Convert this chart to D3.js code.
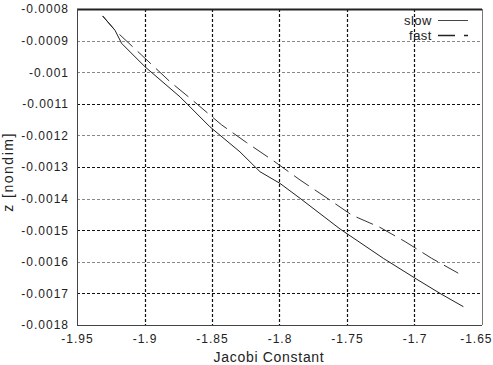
<!DOCTYPE html>
<html>
<head>
<meta charset="utf-8">
<script src="https://cdn.jsdelivr.net/npm/d3@7"></script>
<style>
  html, body { margin: 0; padding: 0; background: #fff; }
  svg { display: block; font-family: "Liberation Sans", Arial, sans-serif; }
</style>
</head>
<body>
<svg id="chart" width="493" height="365"></svg>
<script>
// ---- data ----
const slowX = [-1.931, -1.9219, -1.9169, -1.8996, -1.8737, -1.8515, -1.8293, -1.8144, -1.7996, -1.7848, -1.7552, -1.7231, -1.6984, -1.6811, -1.6638];
const slowZ = [-0.000822, -0.000867, -0.000909, -0.000983, -0.001078, -0.001173, -0.001252, -0.001315, -0.001352, -0.001399, -0.001496, -0.001589, -0.001655, -0.0017, -0.001742];
const fastX = [-1.931, -1.9219, -1.9021, -1.8811, -1.8663, -1.8428, -1.8243, -1.8046, -1.7848, -1.7663, -1.7465, -1.7256, -1.707, -1.6873, -1.6676];
const fastZ = [-0.000822, -0.000867, -0.000946, -0.00103, -0.001082, -0.001167, -0.001223, -0.00128, -0.001341, -0.001394, -0.001452, -0.001491, -0.001536, -0.001589, -0.001636];
const xTicks = [-1.95, -1.9, -1.85, -1.8, -1.75, -1.7, -1.65];
const xTickLabels = ["-1.95", "-1.9", "-1.85", "-1.8", "-1.75", "-1.7", "-1.65"];
const yTicks = [-0.0008, -0.0009, -0.001, -0.0011, -0.0012, -0.0013, -0.0014, -0.0015, -0.0016, -0.0017, -0.0018];
const yTickLabels = ["-0.0008", "-0.0009", "-0.001", "-0.0011", "-0.0012", "-0.0013", "-0.0014", "-0.0015", "-0.0016", "-0.0017", "-0.0018"];
const seriesNames = ["slow", "fast"];

// ---- layout ----
const W = 493, H = 365;
const m = { left: 77, right: 11, top: 9, bottom: 40 };
const pw = W - m.left - m.right, ph = H - m.top - m.bottom;

const svg = d3.select("#chart");
const g = svg.append("g").attr("transform", `translate(${m.left},${m.top})`);

const x = d3.scaleLinear().domain([-1.95, -1.65]).range([0, pw]);
const y = d3.scaleLinear().domain([-0.0018, -0.0008]).range([ph, 0]);

// gridlines (horizontal)
g.append("g").selectAll("line.hg")
  .data(yTicks.slice(1, -1))
  .join("line")
  .attr("x1", 0).attr("x2", pw)
  .attr("y1", d => Math.round(y(d)) + 0.5).attr("y2", d => Math.round(y(d)) + 0.5)
  .attr("stroke", (d, i) => (i >= 2 && i % 2 === 0) ? "#111" : "#888")
  .attr("stroke-width", 1)
  .attr("stroke-dasharray", "3,2");

// gridlines (vertical)
g.append("g").selectAll("line.vg")
  .data(xTicks.slice(1, -1))
  .join("line")
  .attr("x1", d => Math.round(x(d)) + 0.5).attr("x2", d => Math.round(x(d)) + 0.5)
  .attr("y1", 0).attr("y2", ph)
  .attr("stroke", "#111")
  .attr("stroke-width", 1.2)
  .attr("stroke-dasharray", "3,2");

// axes with d3 (labels only; domain hidden)
const xAxis = d3.axisBottom(x).tickValues(xTicks).tickSize(0).tickPadding(9)
  .tickFormat((d, i) => xTickLabels[i]);
const gx = g.append("g").attr("transform", `translate(0,${ph})`).call(xAxis);
gx.select(".domain").remove();
gx.selectAll("text").attr("font-size", 12).attr("fill", "#222")
  .style("letter-spacing", "1px").attr("font-family", "Liberation Sans, Arial, sans-serif");
// keep the last label inside the canvas
gx.selectAll(".tick").filter((d, i) => i === xTicks.length - 1)
  .select("text").attr("text-anchor", "end").attr("x", W - m.left - x(xTicks[xTicks.length - 1]) - 1);

const yAxis = d3.axisLeft(y).tickValues(yTicks).tickSize(0).tickPadding(8)
  .tickFormat((d, i) => yTickLabels[i]);
const gy = g.append("g").call(yAxis);
gy.select(".domain").remove();
gy.selectAll("text").attr("font-size", 12).attr("fill", "#222")
  .style("letter-spacing", "1px").attr("font-family", "Liberation Sans, Arial, sans-serif");

// frame
g.append("line").attr("x1", 0).attr("x2", pw).attr("y1", 0.5).attr("y2", 0.5).attr("stroke", "#222").attr("stroke-width", 2);
g.append("line").attr("x1", 0.5).attr("x2", 0.5).attr("y1", 0).attr("y2", ph).attr("stroke", "#444");
g.append("line").attr("x1", pw + 0.5).attr("x2", pw + 0.5).attr("y1", 0).attr("y2", ph).attr("stroke", "#777");
g.append("line").attr("x1", 0).attr("x2", pw).attr("y1", ph + 0.5).attr("y2", ph + 0.5).attr("stroke", "#444");

// lines
const line = d3.line().x(d => x(d[0])).y(d => y(d[1]));
const slowData = slowX.map((v, i) => [v, slowZ[i]]);
const fastData = fastX.map((v, i) => [v, fastZ[i]]);

g.append("path").datum(fastData).attr("d", line)
  .attr("fill", "none").attr("stroke", "#333").attr("stroke-width", 1)
  .attr("stroke-dasharray", "18,7");
g.append("path").datum(slowData).attr("d", line)
  .attr("fill", "none").attr("stroke", "#222").attr("stroke-width", 1);

// legend
const leg = svg.append("g");
const legStyles = [{ dash: null }, { dash: "17,9,4,100" }];
seriesNames.forEach((name, i) => {
  const yy = 20 + i * 15;
  leg.append("text").attr("x", 432).attr("y", yy + 4.5)
    .attr("text-anchor", "end").attr("font-size", 13).attr("fill", "#222")
    .style("letter-spacing", "0.5px").text(name);
  leg.append("line").attr("x1", 438).attr("x2", 468)
    .attr("y1", yy + 0.5).attr("y2", yy + 0.5)
    .attr("stroke", i === 0 ? "#444" : "#222").attr("stroke-width", i === 0 ? 1 : 1.3)
    .attr("stroke-dasharray", legStyles[i].dash);
});

// axis titles
svg.append("text").attr("x", 269).attr("y", 362)
  .attr("text-anchor", "middle").attr("font-size", 14).attr("fill", "#222")
  .style("letter-spacing", "0.7px").text("Jacobi Constant");
svg.append("text").attr("transform", "translate(13,172) rotate(-90)")
  .attr("text-anchor", "middle").attr("font-size", 14).attr("fill", "#222")
  .style("letter-spacing", "1.5px").text("z [nondim]");
</script>
</body>
</html>
